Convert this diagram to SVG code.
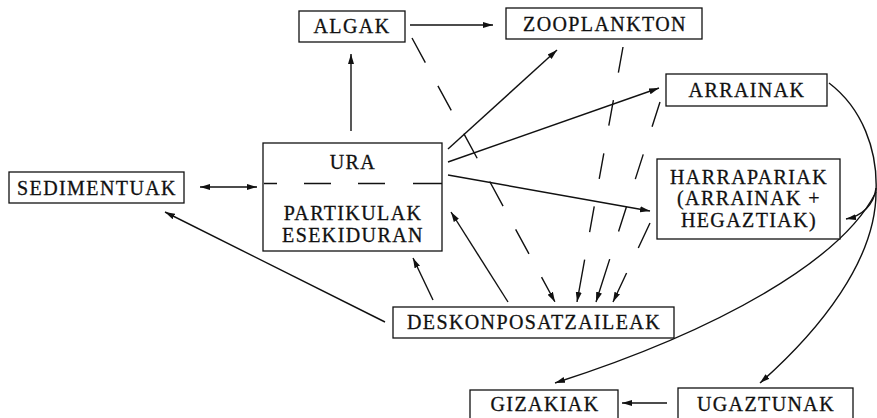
<svg xmlns="http://www.w3.org/2000/svg" width="877" height="418" viewBox="0 0 877 418">
<style>
  .box { fill: #fff; stroke: #111; stroke-width: 1.3; }
  .lbl { font-family: "Liberation Serif", "Times New Roman", serif; font-size: 20px; letter-spacing: 1.4px; text-anchor: middle; fill: #111; stroke: #111; stroke-width: 0.3; }
  .c { fill: none; stroke: #111; stroke-width: 1.4; }
  .a { marker-end: url(#ah); }
</style>
<defs>
  <marker id="ah" markerUnits="userSpaceOnUse" markerWidth="11" markerHeight="8" refX="10" refY="4" orient="auto-start-reverse">
    <path d="M0,1 L10,4 L0,7 z" fill="#111"/>
  </marker>
</defs>
<rect width="877" height="418" fill="#fff"/>

<g id="connectors">
  <path class="c a" d="M410,25 L493,25"/>
  <path class="c a" d="M351,131 L351,54"/>
  <path class="c a" d="M448,149 L557,50"/>
  <path class="c a" d="M448,162 L659,88"/>
  <path class="c a" d="M448,175 L650,211"/>
  <path class="c a" d="M200,187 L257,187" marker-start="url(#ah)"/>
  <path class="c a" d="M385,322 L165,212"/>
  <path class="c a" d="M433,300 L413,258"/>
  <path class="c a" d="M508,302 L451,212"/>
  <path class="c a" d="M412,38 L555,302" stroke-dasharray="28 26.4"/>
  <path class="c a" d="M623,47 L577,302" stroke-dasharray="26 28 26 28 26 28 26 28 45"/>
  <path class="c a" d="M660,102 L596,302" stroke-dasharray="26 29 26 29 26 29 50"/>
  <path class="c a" d="M650,223 L613,302" stroke-dasharray="27.6 27.6 40"/>
  <path class="c" d="M829,83 C862,108 878,150 876,192"/>
  <path class="c a" d="M876,188 C874,205 862,216 846,219"/>
  <path class="c a" d="M876,192 C842,260 720,330 555,383"/>
  <path class="c a" d="M876,192 C876,260 820,330 760,383"/>
  <path class="c a" d="M667,403 L622,403"/>
</g>

<g id="algak">
  <rect class="box" x="299" y="11" width="106" height="31"/>
  <text class="lbl" x="352" y="33">ALGAK</text>
</g>
<g id="zooplankton">
  <rect class="box" x="506" y="8" width="196" height="31"/>
  <text class="lbl" x="605" y="31">ZOOPLANKTON</text>
</g>
<g id="arrainak">
  <rect class="box" x="666" y="74" width="161" height="32"/>
  <text class="lbl" x="747" y="97">ARRAINAK</text>
</g>
<g id="harrapariak">
  <rect class="box" x="657" y="159" width="183" height="80"/>
  <text class="lbl" x="749" y="184">HARRAPARIAK</text>
  <text class="lbl" x="749" y="205">(ARRAINAK +</text>
  <text class="lbl" x="749" y="227">HEGAZTIAK)</text>
</g>
<g id="ura">
  <rect class="box" x="263" y="143" width="179" height="108"/>
  <line x1="264" y1="183.5" x2="442" y2="183.5" stroke="#111" stroke-width="1.3" stroke-dasharray="13 27 27 27 27 28 29"/>
  <text class="lbl" x="353" y="169">URA</text>
  <text class="lbl" x="353" y="220">PARTIKULAK</text>
  <text class="lbl" x="353" y="242">ESEKIDURAN</text>
</g>
<g id="sedimentuak">
  <rect class="box" x="9" y="172" width="175" height="31"/>
  <text class="lbl" x="97" y="195">SEDIMENTUAK</text>
</g>
<g id="deskonposatzaileak">
  <rect class="box" x="393" y="307" width="281" height="31"/>
  <text class="lbl" x="534" y="329">DESKONPOSATZAILEAK</text>
</g>
<g id="gizakiak">
  <rect class="box" x="470" y="390" width="148" height="32"/>
  <text class="lbl" x="545" y="411">GIZAKIAK</text>
</g>
<g id="ugaztunak">
  <rect class="box" x="678" y="388" width="175" height="34"/>
  <text class="lbl" x="766" y="411">UGAZTUNAK</text>
</g>
</svg>
